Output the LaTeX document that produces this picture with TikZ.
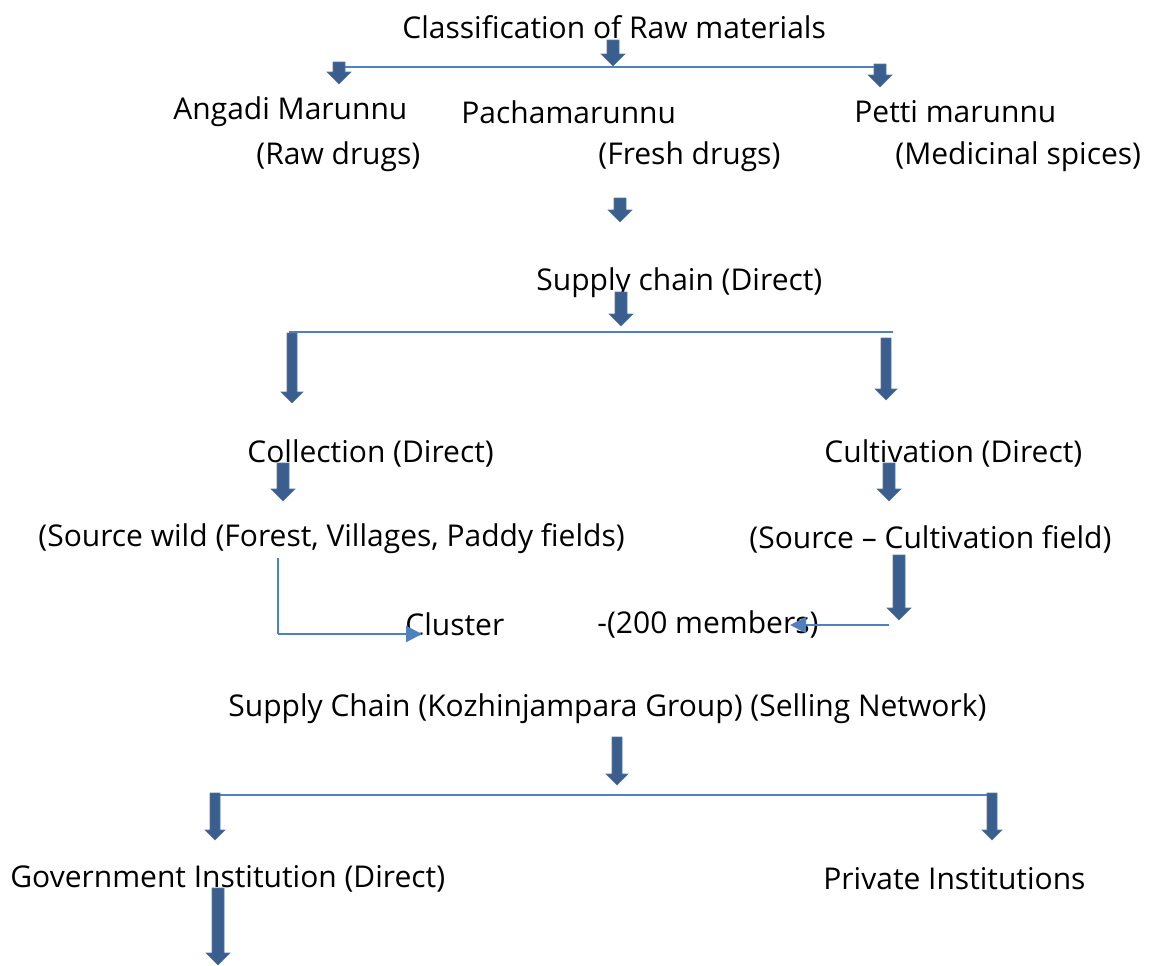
\documentclass[tikz,border=0pt]{standalone}
\usepackage{fontspec}
\setmainfont{Open Sans}
\usetikzlibrary{arrows.meta}
\definecolor{arrowblue}{HTML}{3A5E8E}
\definecolor{lineblue}{HTML}{4F81BD}
\tikzset{
  lbl/.style={anchor=west, inner sep=0pt, font=\fontsize{15}{18}\selectfont},
  blockarrow/.style={fill=arrowblue, draw=arrowblue!85!white, line width=0.3pt},
  thinline/.style={draw=lineblue, line width=1.1pt},
  thinarrow/.style={thinline, -{Triangle[length=8pt,width=8pt]}},
}
% down block arrow: x, top, tip, shaft half width, head half width
\newcommand\dnarrow[5]{%
  \draw[blockarrow] (#1-#4,#2) -- (#1+#4,#2) -- (#1+#4,#3-#5) -- (#1+#5,#3-#5)
    -- (#1,#3) -- (#1-#5,#3-#5) -- (#1-#4,#3-#5) -- cycle;}
\begin{document}
\begin{tikzpicture}[x=0.5pt, y=-0.5pt]
\useasboundingbox (0,0) rectangle (1150,965);
% texts
\node[lbl] (title) at (402,27) {Classification of Raw materials};
\node[lbl] (angadi) at (173,112) {Angadi Marunnu};
\node[lbl] (rawdrugs) at (256,157) {(Raw drugs)};
\node[lbl] (pacha) at (461,112) {Pachamarunnu};
\node[lbl] (fresh) at (598,157) {(Fresh drugs)};
\node[lbl] (petti) at (854,112) {Petti marunnu};
\node[lbl] (spices) at (895,157) {(Medicinal spices)};
\node[lbl] (supply) at (536,283) {Supply chain (Direct)};
\node[lbl] (collect) at (247,453) {Collection (Direct)};
\node[lbl] (cultiv) at (824,453) {Cultivation (Direct)};
\node[lbl] (wild) at (38,539) {(Source wild (Forest, Villages, Paddy fields)};
\node[lbl] (field) at (749,539) {(Source -- Cultivation field)};
\node[lbl] (cluster) at (405,624) {Cluster};
\node[lbl] (members) at (597,624) {-(200 members)};
\node[lbl] (group) at (228,709) {Supply Chain (Kozhinjampara Group) (Selling Network)};
\node[lbl] (govt) at (10,879) {Government Institution (Direct)};
\node[lbl] (private) at (823,879) {Private Institutions};
% thin connectors
\draw[thinline] (339,67) -- (880,67);
\draw[thinline] (289,332) -- (893,332);
\draw[thinline] (278,558) -- (278,634);
\draw[thinarrow] (278,634) -- (422,634);
\draw[thinarrow] (889,625) -- (790,625);
\draw[thinline] (212,795) -- (993,795);
% block arrows
\dnarrow{613}{40}{66}{6}{12}
\dnarrow{339}{62}{84}{6}{12}
\dnarrow{880}{64}{87}{6}{12}
\dnarrow{620}{198}{222}{6}{12}
\dnarrow{621}{292}{326}{6}{12}
\dnarrow{292}{333}{403}{5}{11}
\dnarrow{886}{338}{400}{5}{11}
\dnarrow{283}{463}{501}{6}{12}
\dnarrow{889}{463}{501}{6}{12}
\dnarrow{899}{555}{620}{6}{12}
\dnarrow{617}{737}{785}{5}{11}
\dnarrow{215}{793}{840}{5}{10}
\dnarrow{992}{793}{840}{5}{10}
\dnarrow{218}{888}{965}{6}{12}
\end{tikzpicture}
\end{document}
